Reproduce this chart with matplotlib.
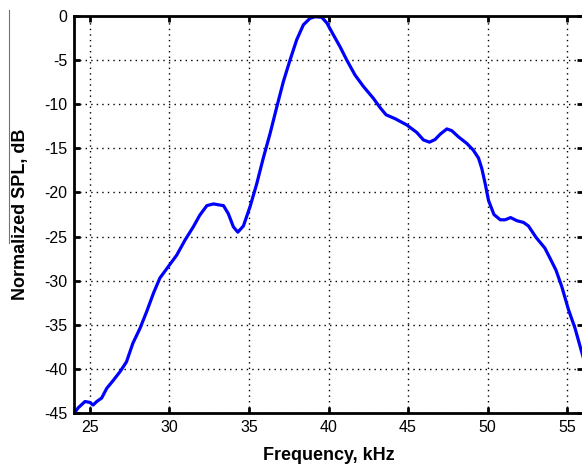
import matplotlib
matplotlib.use("Agg")
import matplotlib.pyplot as plt
from matplotlib.lines import Line2D

# Normalized sound pressure level spectrum
freq_khz = [24.06, 24.27, 24.69, 25.0, 25.2, 25.43, 25.74, 26.06, 26.47, 26.9,
            27.3, 27.7, 28.15, 28.57, 29.0, 29.4, 29.93, 30.46, 30.98, 31.5,
            31.9, 32.35, 32.76, 33.4, 33.7, 34.02, 34.3, 34.65, 35.07, 35.49,
            35.9, 36.33, 36.75, 37.16, 37.58, 38.0, 38.42, 38.84, 39.16, 39.58,
            39.9, 40.31, 40.73, 41.15, 41.67, 42.2, 42.82, 43.25, 43.62, 44.2,
            44.92, 45.55, 45.97, 46.35, 46.7, 47.02, 47.44, 47.75, 48.17, 48.7,
            49.1, 49.43, 49.64, 49.85, 50.06, 50.4, 50.8, 51.1, 51.45, 51.84,
            52.26, 52.57, 53.05, 53.6, 53.94, 54.3, 54.67, 55.09, 55.5, 55.92,
            56.0]
spl_db = [-44.9, -44.4, -43.7, -43.8, -44.1, -43.7, -43.3, -42.2, -41.3, -40.3,
          -39.2, -37.1, -35.4, -33.5, -31.4, -29.7, -28.4, -27.1, -25.4, -23.9,
          -22.6, -21.5, -21.3, -21.5, -22.4, -23.9, -24.5, -23.8, -21.6, -19.0,
          -16.1, -13.3, -10.3, -7.45, -5.0, -2.7, -1.0, -0.26, -0.08, -0.15,
          -0.8, -2.15, -3.5, -5.0, -6.7, -8.0, -9.33, -10.4, -11.2, -11.65,
          -12.35, -13.2, -14.05, -14.3, -14.0, -13.4, -12.8, -13.0, -13.7, -14.45,
          -15.2, -16.1, -17.3, -19.0, -20.9, -22.5, -23.1, -23.1, -22.85, -23.2,
          -23.4, -23.8, -25.1, -26.3, -27.5, -28.8, -30.7, -33.3, -35.4, -38.1,
          -38.6]

x_ticks = [25, 30, 35, 40, 45, 50, 55]
y_ticks = [0, -5, -10, -15, -20, -25, -30, -35, -40, -45]

plt.rcParams['font.family'] = ['Liberation Sans', 'DejaVu Sans']

W, H = 582, 472
fig = plt.figure(figsize=(W / 100, H / 100), dpi=100)
fig.patch.set_facecolor('white')

left, right, top, bottom = 74, 583, 16, 413
ax = fig.add_axes([left / W, (H - bottom) / H, (right - left) / W, (bottom - top) / H])

ax.plot(freq_khz, spl_db, color=(0, 0, 1), linewidth=2.3, solid_joinstyle='round')

ax.set_xlim(24, 56)
ax.set_ylim(-45, 0)
ax.set_xticks(x_ticks)
ax.set_yticks(y_ticks)
ax.set_xticklabels([str(v) for v in x_ticks])
ax.set_yticklabels([str(v) for v in y_ticks])

ax.grid(True, color='black', linestyle=(0, (1, 3)), linewidth=1.0)
ax.tick_params(direction='in', length=4, width=2, labelsize=11.5, pad=5,
               top=True, right=True, colors='black')
for side in ax.spines.values():
    side.set_linewidth(2.0)
    side.set_color('black')

ax.set_xlabel('Frequency, kHz', fontsize=13, fontweight='bold', labelpad=9)
ax.set_ylabel('Normalized SPL, dB', fontsize=13, fontweight='bold', labelpad=11)

# thin rule along the left edge
fig.add_artist(Line2D([9 / W, 9 / W], [1 - 10 / H, 1 - 243 / H],
                      transform=fig.transFigure, color='0.45', linewidth=0.8))

fig.savefig('out.png', dpi=100)
